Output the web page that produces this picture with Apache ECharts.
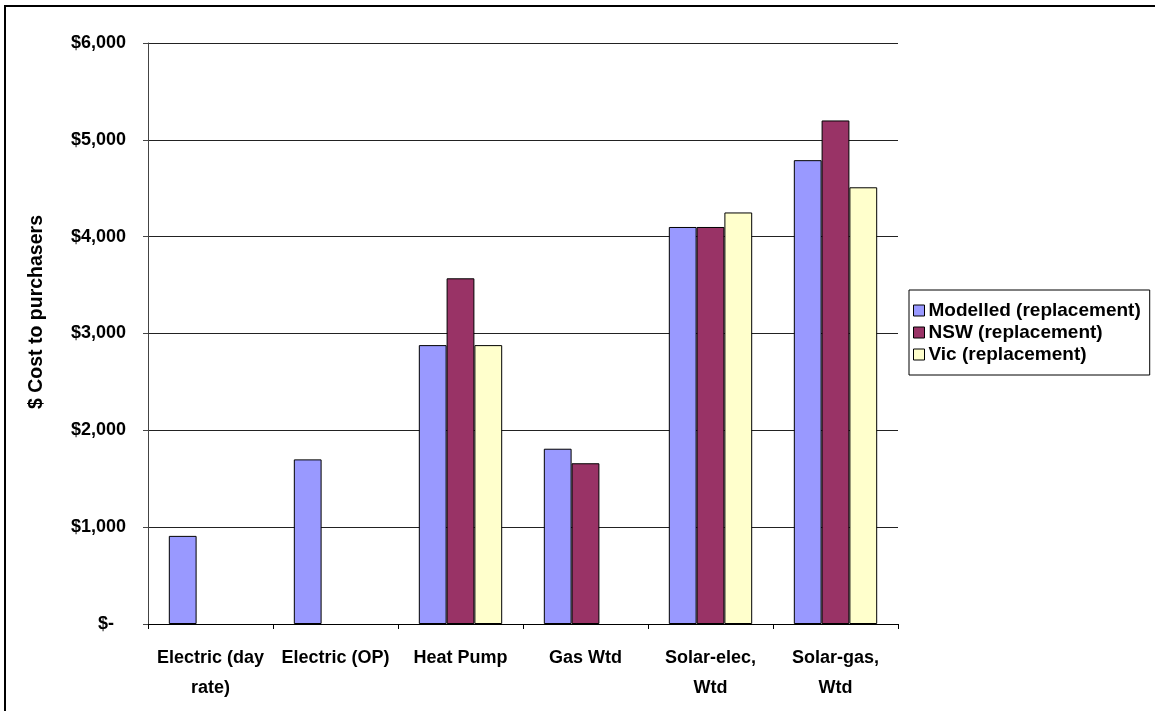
<!DOCTYPE html>
<html>
<head>
<meta charset="utf-8">
<script src="https://cdn.jsdelivr.net/npm/echarts@6/dist/echarts.min.js"></script>
<style>
  html, body { margin: 0; padding: 0; background: #fff; }
  #chart { width: 1155px; height: 711px; }
</style>
</head>
<body>
<div id="chart"></div>
<script>
// Water heater purchase cost by type, three cost sources
const categories = ['Electric (day\nrate)', 'Electric (OP)', 'Heat Pump', 'Gas Wtd', 'Solar-elec,\nWtd', 'Solar-gas,\nWtd'];
const seriesNames = ['Modelled (replacement)', 'NSW (replacement)', 'Vic (replacement)'];
const modelled = [910, 1700, 2880, 1810, 4100, 4790];
const nsw = [null, null, 3570, 1660, 4100, 5200];
const vic = [null, null, 2880, null, 4250, 4510];
const yTicks = [0, 1000, 2000, 3000, 4000, 5000, 6000];
const colors = ['#9999FF', '#993366', '#FFFFCC'];

const boldSans = 'Liberation Sans, Arial, sans-serif';

// accounting-style money labels: zero shows as a dash
function money(v) {
  if (v === 0) return '{dash|$-}';
  return '$' + v.toLocaleString('en-US');
}

const chart = echarts.init(document.getElementById('chart'));
const values = [modelled, nsw, vic];

chart.setOption({
  animation: false,
  backgroundColor: '#fff',
  grid: { left: 148, right: 257, top: 43, bottom: 87, containLabel: false },
  legend: {
    orient: 'vertical',
    left: 909,
    top: 290,
    data: seriesNames,
    icon: 'rect',
    itemWidth: 11,
    itemHeight: 11,
    itemGap: 3,
    padding: [11, 9, 11, 4],
    borderColor: '#000',
    borderWidth: 1,
    backgroundColor: '#fff',
    itemStyle: { borderColor: '#000', borderWidth: 1 },
    textStyle: { fontFamily: boldSans, fontWeight: 'bold', fontSize: 19, color: '#000', lineHeight: 19, padding: [0, 0, 0, -1] }
  },
  xAxis: {
    type: 'category',
    data: categories,
    axisLine: { lineStyle: { color: '#000', width: 1 } },
    axisTick: { show: true, length: 5, lineStyle: { color: '#000' } },
    axisLabel: {
      interval: 0,
      margin: 19,
      fontFamily: boldSans,
      fontWeight: 'bold',
      fontSize: 18,
      lineHeight: 30,
      color: '#000'
    },
    splitLine: { show: false }
  },
  yAxis: {
    type: 'value',
    min: yTicks[0],
    max: yTicks[yTicks.length - 1],
    interval: 1000,
    axisLine: { show: true, lineStyle: { color: '#444', width: 1 } },
    axisTick: { show: true, length: 5, lineStyle: { color: '#444' } },
    axisLabel: {
      margin: 22,
      fontFamily: boldSans,
      fontWeight: 'bold',
      fontSize: 18,
      color: '#000',
      formatter: money,
      rich: {
        dash: { fontFamily: boldSans, fontWeight: 'bold', fontSize: 18, color: '#000', padding: [0, 12, 0, 0] }
      }
    },
    splitLine: { show: true, lineStyle: { color: '#222', width: 1 } }
  },
  series: seriesNames.map((name, i) => ({
    name: name,
    type: 'bar',
    data: values[i],
    barGap: '0%',
    barCategoryGap: '33.3%',
    itemStyle: { color: colors[i], borderColor: '#000', borderWidth: 1 }
  })),
  graphic: [
    {
      type: 'rect',
      shape: { x: 5, y: 6, width: 1200, height: 800 },
      style: { fill: 'none', stroke: '#000', lineWidth: 2 },
      silent: true
    },
    {
      type: 'text',
      x: 37,
      y: 312,
      rotation: Math.PI / 2,
      style: {
        text: '$ Cost to purchasers',
        fontFamily: boldSans,
        fontWeight: 'bold',
        fontSize: 19.5,
        fill: '#000',
        align: 'center',
        verticalAlign: 'middle'
      }
    }
  ]
});
</script>
</body>
</html>
